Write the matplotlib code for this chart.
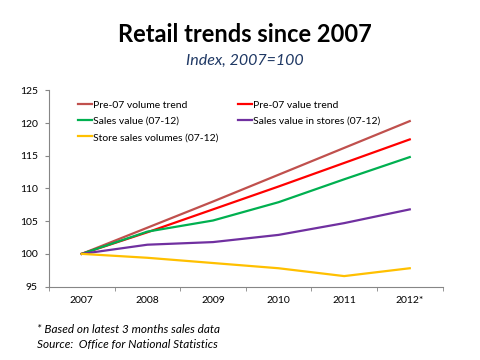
import matplotlib.pyplot as plt
import numpy as np

years = ['2007', '2008', '2009', '2010', '2011', '2012*']
pre07_volume = [100, 104.0, 108.0, 112.1, 116.2, 120.3]
pre07_value = [100, 103.3, 106.8, 110.3, 113.9, 117.5]
sales_value = [100, 103.4, 105.1, 107.9, 111.4, 114.8]
store_value = [100, 101.4, 101.8, 102.9, 104.7, 106.8]
store_volume = [100, 99.4, 98.6, 97.8, 96.6, 97.8]

labels = ['Pre-07 volume trend', 'Pre-07 value trend', 'Sales value (07-12)',
          'Sales value in stores (07-12)', 'Store sales volumes (07-12)']
colors = ['#C0504D', '#FF0000', '#00B050', '#7030A0', '#FFC000']
series = [pre07_volume, pre07_value, sales_value, store_value, store_volume]

plt.rcParams['font.family'] = ['Lato', 'DejaVu Sans']

fig = plt.figure(figsize=(4.8, 3.6), dpi=100)
ax = fig.add_axes([0.102, 0.204, 0.820, 0.545])

x = np.arange(len(years))
lines = []
for vals, c, lab in zip(series, colors, labels):
    ln, = ax.plot(x, vals, color=c, lw=1.6, label=lab)
    lines.append(ln)

ax.set_xlim(-0.5, len(years) - 0.5)
ax.set_ylim(95, 125)
ax.set_yticks(range(95, 126, 5))
ax.set_xticks(x)
ax.set_xticklabels(years)
ax.set_xticks(np.arange(-0.5, len(years)), minor=True)
ax.tick_params(axis='x', which='major', length=0, pad=7, labelsize=7.5)
ax.tick_params(axis='x', which='minor', length=3, color='#868686')
ax.tick_params(axis='y', length=3, color='#868686', pad=5, labelsize=7.5)
for s in ['top', 'right']:
    ax.spines[s].set_visible(False)
for s in ['left', 'bottom']:
    ax.spines[s].set_color('#868686')

# legend rows: left col then right col
order = [0, 2, 4, 1, 3]
ax.legend([lines[i] for i in order], [labels[i] for i in order], ncol=2,
          frameon=False, loc='upper left', bbox_to_anchor=(0.05, 0.995),
          fontsize=7.5, handlelength=1.3, handletextpad=0.15,
          columnspacing=1.9, labelspacing=0.65)

fig.text(0.51, 0.905, 'Retail trends since 2007', ha='center', va='center',
         fontsize=17, fontweight='bold')
fig.text(0.51, 0.83, 'Index, 2007=100', ha='center', va='center',
         fontsize=11.5, style='italic', color='#1F3864')
fig.text(0.077, 0.086, '* Based on latest 3 months sales data', fontsize=8.5,
         style='italic', va='center')
fig.text(0.077, 0.044, 'Source:  Office for National Statistics', fontsize=8.5,
         style='italic', va='center')

fig.savefig('out.png', dpi=100)
